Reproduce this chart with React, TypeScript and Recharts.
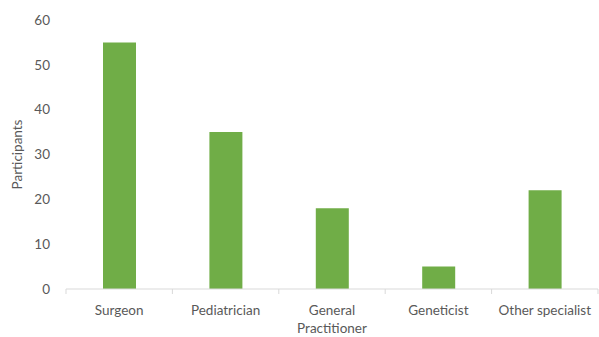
import { Bar, BarChart, Label, XAxis, YAxis } from "recharts";

const categories = ["Surgeon", "Pediatrician", "General Practitioner", "Geneticist", "Other specialist"];
const participants = [55, 35, 18, 5, 22];
const yTicks = [0, 10, 20, 30, 40, 50, 60];

const data = categories.map((name, i) => ({ name, value: participants[i] }));

const TEXT = "#595959";
const AXIS = "#D9D9D9";
const FONT = "Lato, 'Liberation Sans', sans-serif";

function CategoryTick(props: any) {
  const { x, y, payload, index, visibleTicksCount } = props;
  const band = 532 / categories.length;
  const words: string[] = payload.value === "General Practitioner" ? ["General", "Practitioner"] : [payload.value];
  const last = index === (visibleTicksCount ?? categories.length) - 1;
  return (
    <g>
      <line x1={x - band / 2} x2={x - band / 2} y1={y - 8} y2={y - 3} stroke={AXIS} />
      {last && <line x1={x + band / 2} x2={x + band / 2} y1={y - 8} y2={y - 3} stroke={AXIS} />}
      <text x={x} y={y + 18} textAnchor="middle" fill={TEXT} fontSize={13.5} fontFamily={FONT}>
        {words.map((w, i) => (
          <tspan key={w} x={x} dy={i === 0 ? 0 : 18}>
            {w}
          </tspan>
        ))}
      </text>
    </g>
  );
}

export default function App() {
  return (
    <div style={{ width: 599, height: 337 }}>
      <style>{"body{margin:0}"}</style>
      <BarChart width={599} height={337} data={data} margin={{ top: 20, right: 1, left: 0, bottom: 0 }}>
        <XAxis
          dataKey="name"
          height={48}
          axisLine={{ stroke: AXIS }}
          tickLine={false}
          interval={0}
          tick={<CategoryTick />}
        />
        <YAxis
          width={66}
          domain={[0, 60]}
          ticks={yTicks}
          axisLine={false}
          tickLine={false}
          tickMargin={10}
          tick={{ fill: TEXT, fontSize: 13.5, fontFamily: FONT }}
        >
          <Label
            value="Participants"
            angle={-90}
            position="insideLeft"
            dx={12}
            style={{ textAnchor: "middle", fill: TEXT, fontSize: 13.5, fontFamily: FONT }}
          />
        </YAxis>
        <Bar dataKey="value" fill="#70AD47" barSize={33} isAnimationActive={false} />
      </BarChart>
    </div>
  );
}
